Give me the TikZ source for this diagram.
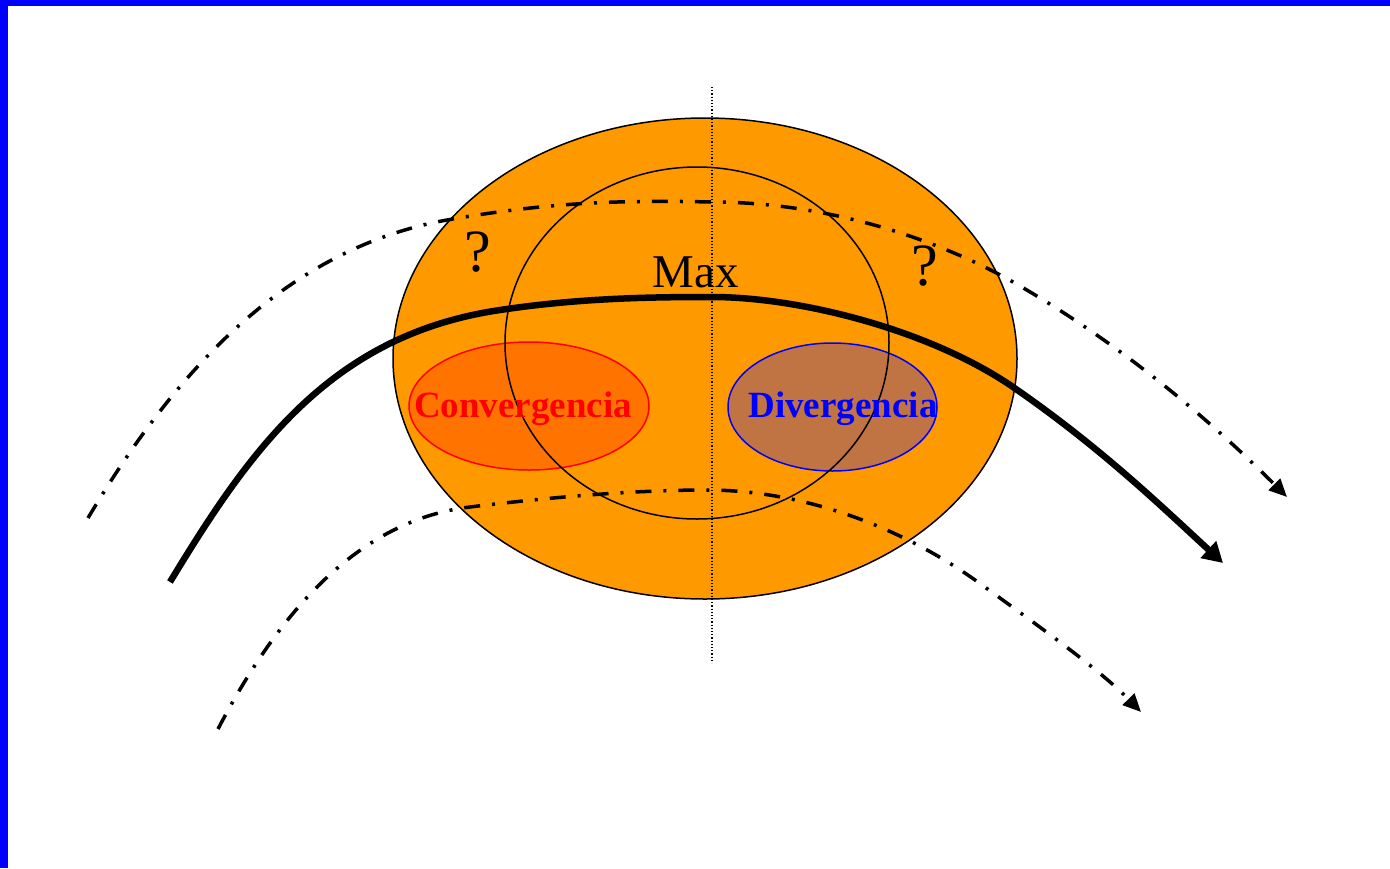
\documentclass[tikz,border=0pt]{standalone}
\usepackage{fontspec}
\setmainfont{Liberation Serif}
\usetikzlibrary{arrows.meta}
\definecolor{bigorange}{HTML}{FF9900}
\definecolor{convfill}{HTML}{FF7300}
\definecolor{divfill}{HTML}{C07444}
\begin{document}
\begin{tikzpicture}[x=1pt,y=-1pt,
  dashdot/.style={line width=3.5pt,dash pattern=on 16pt off 12pt on 3pt off 12pt},
  thickcurve/.style={line width=6.5pt},
  lbl/.style={inner sep=0pt,font=\bfseries\fontsize{37}{40}\selectfont}]
\useasboundingbox (0,0) rectangle (1390,868);
\fill[white] (0,0) rectangle (1390,868);
\fill[blue] (0,0) rectangle (8,868);
\fill[blue] (0,0) rectangle (1390,6);
% big ellipse
\draw[fill=bigorange,line width=1.5pt] (705,358.5) ellipse [x radius=312,y radius=240.5];
% small ellipses
\draw[red,fill=convfill,line width=1.5pt] (529,406) ellipse [x radius=120,y radius=64];
\draw[blue,fill=divfill,line width=1.5pt] (832.5,407) ellipse [x radius=104.5,y radius=64];
% inner circle
\draw[line width=1.5pt] (697,343) ellipse [x radius=192,y radius=176];
% dotted axis
\coordinate (axtop) at (712,87);
\coordinate (axbot) at (712,663);
\draw[line width=1.2pt,dotted] (axtop) -- (axbot);
% labels
\node[lbl,text=red] (conv) at (523,409) {Convergencia};
\node[lbl,text=blue] (div) at (843,409) {Divergencia};
\node[inner sep=0pt,font=\fontsize{47}{50}\selectfont] (max) at (696,272) {Max};
\node[inner sep=0pt,font=\fontsize{60}{60}\selectfont] (q1) at (478,252) {?};
\node[inner sep=0pt,font=\fontsize{60}{60}\selectfont] (q2) at (925,266) {?};
% curve end points
\coordinate (t0) at (88,518);   \coordinate (t1) at (447,220);
\coordinate (t2) at (712,202);  \coordinate (t3) at (1013,282);
\coordinate (t4) at (1287,497);
\coordinate (b0) at (218,729);  \coordinate (b1) at (470,507);
\coordinate (b2) at (707,490);  \coordinate (b3) at (982,585);
\coordinate (b4) at (1141,712);
\coordinate (m0) at (170,582);  \coordinate (m1) at (500,310);
\coordinate (m2) at (712,297);  \coordinate (m3) at (1013,387);
\coordinate (m4) at (1223,563);
% dash-dot curves
\draw[dashdot,-{Triangle[length=18pt,width=16pt]}]
  (t0) .. controls (170,380) and (280,250) .. (t1)
       .. controls (550,202) and (620,200) .. (t2)
       .. controls (820,202) and (930,235) .. (t3)
       .. controls (1120,343) and (1210,420) .. (t4);
\draw[dashdot,-{Triangle[length=18pt,width=16pt]}]
  (b0) .. controls (280,610) and (360,520) .. (b1)
       .. controls (560,496) and (640,490) .. (b2)
       .. controls (800,490) and (900,525) .. (b3)
       .. controls (1040,627) and (1100,670) .. (b4);
% thick curve
\draw[thickcurve,-{Triangle[length=20pt,width=22pt]}]
  (m0) .. controls (250,450) and (330,335) .. (m1)
       .. controls (580,298) and (650,297) .. (m2)
       .. controls (800,297) and (930,330) .. (m3)
       .. controls (1100,447) and (1160,505) .. (m4);
\end{tikzpicture}
\end{document}
